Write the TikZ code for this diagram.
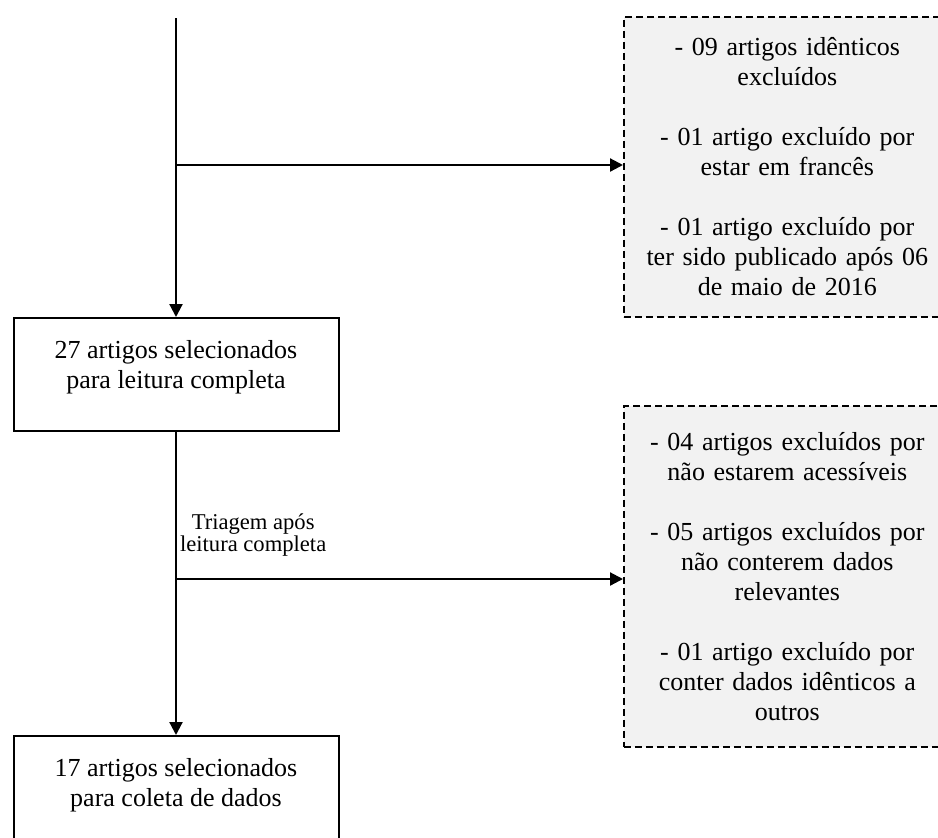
\documentclass[tikz,border=0pt]{standalone}
\usepackage{fontspec}
\setmainfont{Liberation Serif}
\usetikzlibrary{arrows.meta,calc,positioning}
\definecolor{ExclGray}{HTML}{F2F2F2}

\tikzset{
  stagebox/.style={draw, line width=1pt, fill=white, minimum width=162.5pt,
    minimum height=56.5pt, align=center, font=\fontsize{13}{15}\selectfont},
  exclbox/.style={draw, dash pattern=on 3.5pt off 2pt, line width=0.8pt,
    fill=ExclGray, minimum width=163.5pt, text width=150pt, align=center,
    font=\fontsize{13}{15}\selectfont},
  flow/.style={line width=1.1pt, -{Triangle[length=6.5pt,width=6.5pt]}},
  steplabel/.style={font=\fontsize{11.3}{11}\selectfont, align=center}
}

\begin{document}
\begin{tikzpicture}[x=0.5pt,y=-0.5pt]
  \clip (0,0) rectangle (938,837);
  \fill[white] (0,0) rectangle (938,837);

  % main stages
  \coordinate (start) at (176,18);
  \node[stagebox] (sel27) at (176,374.5)
    {27 artigos selecionados\\para leitura completa\rule[-10pt]{0pt}{0pt}};
  \node[stagebox, anchor=north] (sel17) at (176,735)
    {17 artigos selecionados\\para coleta de dados\rule[-10pt]{0pt}{0pt}};

  % exclusions
  \node[exclbox, minimum height=150pt, anchor=north west] (excl1) at (623,16)
    {- 09 artigos idênticos\\excluídos\\[15pt]- 01 artigo excluído por\\estar em francês\\[15pt]- 01 artigo excluído por\\ter sido publicado após 06\\de maio de 2016};
  \node[exclbox, minimum height=170.5pt, anchor=north west] (excl2) at (623,405)
    {- 04 artigos excluídos por\\não estarem acessíveis\\[15pt]- 05 artigos excluídos por\\não conterem dados\\relevantes\\[15pt]- 01 artigo excluído por\\conter dados idênticos a\\outros};

  \coordinate (split1) at (176,165);
  \coordinate (split2) at (176,579);
  \node[steplabel, anchor=south west] (triagem) at ($(split2)+(-3,-16)$)
    {Triagem após\\leitura completa};

  % connectors
  \draw[flow] (start) -- (sel27.north);
  \draw[flow] (split1) -- (split1 -| excl1.west);
  \draw[flow] (sel27.south) -- (sel17.north);
  \draw[flow] (split2) -- (split2 -| excl2.west);
\end{tikzpicture}
\end{document}
